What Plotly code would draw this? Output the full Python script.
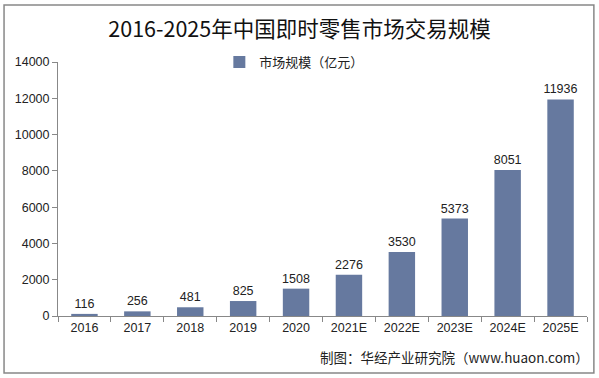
import plotly.graph_objects as go

categories = ["2016", "2017", "2018", "2019", "2020", "2021E", "2022E", "2023E", "2024E", "2025E"]
values = [116, 256, 481, 825, 1508, 2276, 3530, 5373, 8051, 11936]
series_name = "市场规模（亿元）"
title_text = "2016-2025年中国即时零售市场交易规模"
credit_text = "制图：华经产业研究院（www.huaon.com）"
y_ticks = [0, 2000, 4000, 6000, 8000, 10000, 12000, 14000]
y_ticktext = [str(v) for v in y_ticks]

bar_color = "#66799F"
font_fam = "Liberation Sans, Noto Sans CJK SC, sans-serif"

fig = go.Figure()
fig.add_trace(go.Bar(
    x=categories, y=values, name=series_name,
    marker=dict(color=bar_color, line=dict(width=0)),
    text=[str(v) for v in values], textposition="outside",
    constraintext="none",
    textfont=dict(size=12.5, color="#222", family=font_fam),
    cliponaxis=False,
))

fig.update_layout(
    width=599, height=378,
    margin=dict(l=58, r=12, t=62, b=62, autoexpand=False),
    paper_bgcolor="white", plot_bgcolor="white",
    bargap=0.5,
    showlegend=True,
    legend=dict(x=0.305, y=1.0, xanchor="left", yanchor="middle",
                font=dict(size=13, color="#222", family="Noto Sans CJK SC"),
                bgcolor="rgba(0,0,0,0)", itemwidth=30),
    title=dict(text=title_text, x=0.5, xanchor="center", y=0.923, yanchor="middle",
               font=dict(size=21.5, color="#111", family="Noto Sans CJK SC")),
    xaxis=dict(type="category", showline=True, linecolor="#888", linewidth=1, automargin=False,
               ticks="outside", ticklen=5, tickcolor="#888", tickson="boundaries",
               tickfont=dict(size=12.5, color="#222", family=font_fam), showgrid=False),
    yaxis=dict(range=[0, 14000], tickvals=y_ticks, ticktext=y_ticktext, showline=True,
               linecolor="#888", linewidth=1, automargin=False,
               ticks="outside", ticklen=5, tickcolor="#888", showgrid=False, zeroline=False,
               tickfont=dict(size=12.5, color="#222", family=font_fam)),
    shapes=[dict(type="rect", xref="paper", yref="paper", x0=-0.102, x1=1.013, y0=-0.224, y1=1.224,
                 line=dict(color="#888", width=1.5), fillcolor="rgba(0,0,0,0)", layer="below")],
    annotations=[
        dict(text=credit_text, xref="paper", yref="paper", x=1.008, y=-0.161, xanchor="right", yanchor="middle",
             showarrow=False, font=dict(size=13.5, color="#222", family="Noto Sans CJK SC")),
    ],
)

fig.write_html("out.html", config={"displayModeBar": False},
               post_script="document.body.style.margin='0';document.body.style.overflow='hidden';")
